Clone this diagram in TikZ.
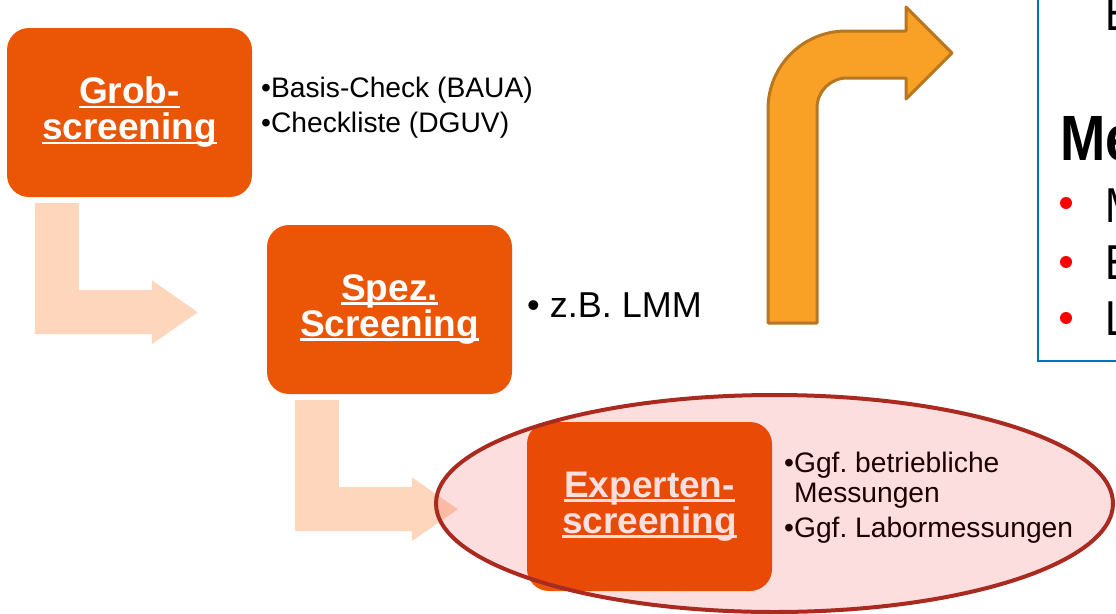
\documentclass[tikz,border=0pt]{standalone}
\usepackage{fontspec}
\setmainfont{Liberation Sans}
\newfontfamily\panelfont[FakeStretch=0.85]{Liberation Sans}
\frenchspacing

% underlined word with a thick rule just below the baseline
\newsavebox\ulwordbox
\newcommand\ulword[1]{\sbox\ulwordbox{#1}\rlap{\rule[-4.2pt]{\wd\ulwordbox}{2.6pt}}\usebox\ulwordbox}

\definecolor{stageorange}{RGB}{234,86,6}
\definecolor{flowpeach}{RGB}{253,214,188}
\definecolor{bendfill}{RGB}{249,161,38}
\definecolor{bendline}{RGB}{184,118,30}
\definecolor{ringline}{RGB}{170,42,32}
\definecolor{ringfill}{RGB}{230,0,0}
\definecolor{panelblue}{RGB}{0,112,192}
\definecolor{dotred}{RGB}{255,0,0}

\begin{document}
\begin{tikzpicture}[x=1pt,y=-1pt,
  stage/.style={rectangle, rounded corners=22pt, fill=stageorange,
    minimum width=245pt, minimum height=169pt, inner sep=0pt,
    text=white, align=center,
    font=\fontsize{37}{36}\selectfont\bfseries},
  flow/.style={fill=flowpeach},
  note/.style={anchor=base west, inner sep=0pt,
    font=\fontsize{28.2}{30}\selectfont},
  bignote/.style={anchor=base west, inner sep=0pt,
    font=\fontsize{36}{40}\selectfont},
  turnarrow/.style={fill=bendfill, draw=bendline, line width=3pt, line join=round},
  ring/.style={draw=ringline, line width=4pt, fill=ringfill, fill opacity=0.13},
  panelline/.style={draw=panelblue, line width=2pt},
  paneltext/.style={anchor=base west, inner sep=0pt,
    font=\panelfont\fontsize{49}{54}\selectfont},
  panelhead/.style={anchor=base west, inner sep=0pt,
    font=\panelfont\bfseries\fontsize{64}{70}\selectfont},
  reddot/.style={circle, fill=dotred, minimum size=12pt, inner sep=0pt}]

\useasboundingbox (0,0) rectangle (1116,613);
\clip (0,0) rectangle (1116,613);

% the three screening stages
\node[stage] (grob) at (129.5,112.5) {\ulword{Grob-}\\\ulword{screening}};
\node[stage] (spez) at (389.5,309.5) {\ulword{Spez.}\\\ulword{Screening}};

% L-shaped block arrows leading from one stage to the next
\begin{scope}[shift={(grob.south west)}]
  \fill[flow] (28,6) -- (72,6) -- (72,93) -- (145,93) -- (145,83)
    -- (191,115) -- (145,147) -- (145,137) -- (28,137) -- cycle;
\end{scope}
\begin{scope}[shift={(spez.south west)}]
  \fill[flow] (28,6) -- (72,6) -- (72,93) -- (145,93) -- (145,83)
    -- (191,115) -- (145,147) -- (145,137) -- (28,137) -- cycle;
\end{scope}

\node[stage] (expert) at (649.5,506.5) {\ulword{Experten-}\\\ulword{screening}};

% notes beside each stage
\node[note] (basis) at (261,97) {•Basis-Check (BAUA)};
\node[note] (check) at (261,132) {•Checkliste (DGUV)};
\node[bignote] (lmm) at (527,317) {• z.B. LMM};
\node[note] (mess1) at (784,472) {•Ggf. betriebliche};
\node[note] (mess2) at (784,502) {\phantom{•}Messungen};
\node[note] (labor) at (784,537) {•Ggf. Labormessungen};

% highlight round the last stage
\draw[ring] (774.5,503.5) ellipse [x radius=338.5, y radius=108.5];

% bent arrow pointing to the panel
\draw[turnarrow] (768,323) -- (768,109) arc[start angle=180, end angle=270, radius=78]
  -- (906,31) -- (906,7) -- (952,53) -- (906,99) -- (906,78) -- (847,78)
  arc[start angle=270, end angle=180, radius=30] -- (817,323) -- cycle;

% panel on the right
\draw[panelline] (1038,-10) -- (1038,361) -- (1130,361);
\node[paneltext] (ptop) at (1105,30) {E};
\node[panelhead] (phead) at (1060,160) {Me};
\node[reddot] (d1) at (1066,203) {};
\node[reddot] (d2) at (1066,262) {};
\node[reddot] (d3) at (1066,318) {};
\node[paneltext] (p1) at (1105,222) {M};
\node[paneltext] (p2) at (1105,279) {E};
\node[paneltext] (p3) at (1105,335) {L};
\end{tikzpicture}
\end{document}
